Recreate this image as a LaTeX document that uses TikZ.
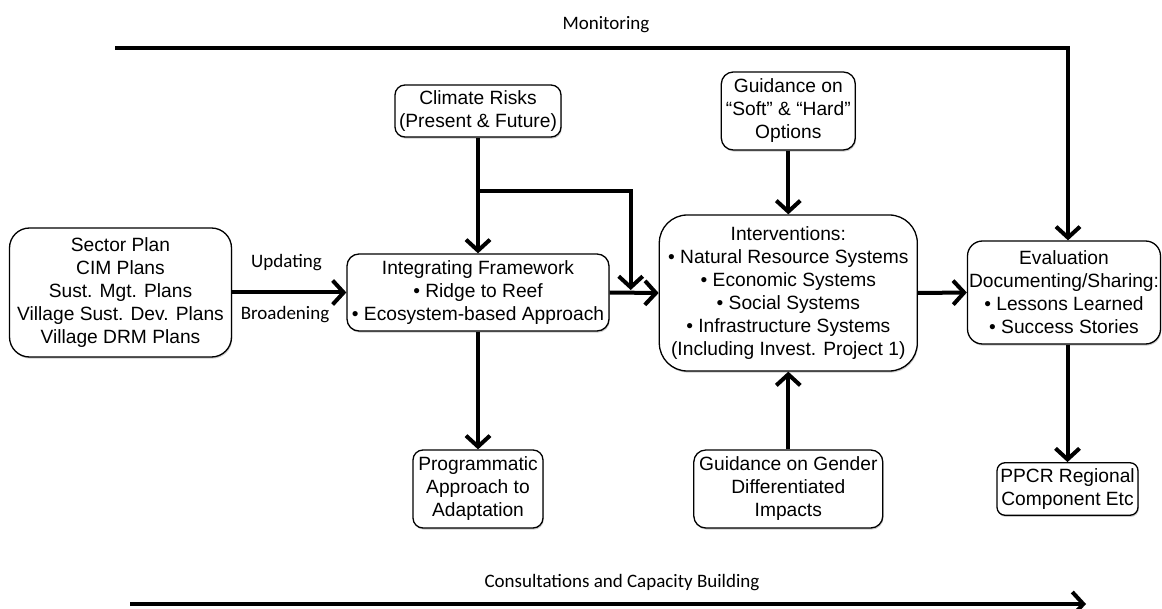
\documentclass[tikz,border=0pt]{standalone}
\usepackage{fontspec}
\setmainfont{Liberation Sans}
\newfontfamily\carlito{Carlito}
\usetikzlibrary{arrows.meta,shadows}
\begin{document}
\begin{tikzpicture}[x=1pt,y=-1pt,
  box/.style={draw, line width=1.3pt, rounded corners=#1, fill=white, align=center,
    inner sep=1pt, font=\fontsize{19.2}{23}\selectfont,
    drop shadow={shadow xshift=0.8pt, shadow yshift=-1.6pt, fill=black!45, opacity=0.45}},
  box/.default=12pt,
  conn/.style={line width=4pt, -{Straight Barb[length=11pt,width=24pt]}},
  plain/.style={line width=4pt},
  lbl/.style={font=\carlito\fontsize{19}{23}\selectfont, inner sep=0pt}]
\useasboundingbox (0,0) rectangle (1162,609);

% boxes
\node[box=20pt, minimum width=222pt, minimum height=129pt] (sector) at (120.5,292.5)
  {Sector Plan\\CIM Plans\\Sust. Mgt. Plans\\Village Sust. Dev. Plans\\Village DRM Plans};
\node[box=10pt, minimum width=166pt, minimum height=52pt] (climate) at (478,111)
  {Climate Risks\\(Present \& Future)};
\node[box=12pt, minimum width=262pt, minimum height=77pt] (frame) at (478,292.5)
  {Integrating Framework\\• Ridge to Reef\\• Ecosystem-based Approach};
\node[box=28pt, minimum width=258pt, minimum height=156pt] (interv) at (788.3,293)
  {Interventions:\\• Natural Resource Systems\\• Economic Systems\\• Social Systems\\• Infrastructure Systems\\(Including Invest. Project 1)};
\node[box=12pt, minimum width=134pt, minimum height=78pt] (soft) at (788.3,111)
  {Guidance on\\“Soft” \& “Hard”\\Options};
\node[box=15pt, minimum width=193pt, minimum height=103pt] (eval) at (1064,292.5)
  {Evaluation\\Documenting/Sharing:\\• Lessons Learned\\• Success Stories};
\node[box=10pt, minimum width=130pt, minimum height=78pt] (prog) at (478,489)
  {Programmatic\\Approach to\\Adaptation};
\node[box=12pt, minimum width=189pt, minimum height=78pt] (gender) at (788.3,489)
  {Guidance on Gender\\Differentiated\\Impacts};
\node[box=8pt, minimum width=141pt, minimum height=52.5pt] (ppcr) at (1067.5,489)
  {PPCR Regional\\Component Etc};

% labels
\node[lbl, anchor=base] (mon) at (606,29.3) {Monitoring};
\node[lbl, anchor=base] (upd) at (286.5,267.3) {Updating};
\node[lbl, anchor=base] (brd) at (285,320) {Broadening};
\node[lbl, anchor=base] (cons) at (622,587.5) {Consultations and Capacity Building};

% coordinates for free ends
\coordinate (mstart) at (115,48);
\coordinate (br) at (478,190.7);
\coordinate (bt) at (630.7,290);
\coordinate (cstart) at (130,604);
\coordinate (cend) at (1086,604);

% connectors
\draw[conn] (mstart) -| ([xshift=4pt]eval.north);
\draw[conn] (sector.east) -- (frame.west);
\draw[conn] (climate.south) -- (frame.north);
\draw[conn] (br) -| (bt);
\draw[conn] (frame.east) -- (interv.west);
\draw[conn] (soft.south) -- (interv.north);
\draw[conn] (interv.east) -- (eval.west);
\draw[conn] (frame.south) -- (prog.north);
\draw[conn] (gender.north) -- (interv.south);
\draw[conn] (ppcr.north |- eval.south) -- (ppcr.north);
\draw[conn] (cstart) -- (cend);
\end{tikzpicture}
\end{document}
